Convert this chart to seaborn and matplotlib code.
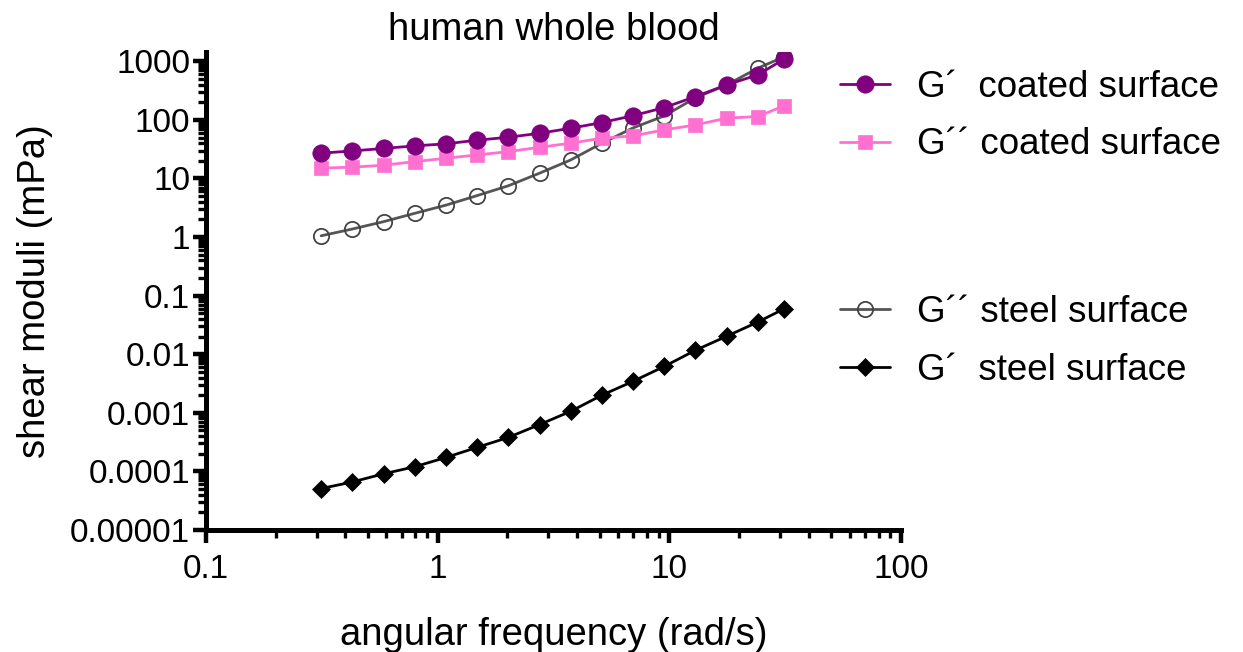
import numpy as np
import pandas as pd
import matplotlib
matplotlib.use("Agg")
import matplotlib.pyplot as plt
import matplotlib.ticker as mticker
import seaborn as sb

# angular frequency (rad/s)
freq = [0.314, 0.428, 0.584, 0.796, 1.085, 1.48, 2.018, 2.752, 3.752,
        5.116, 6.976, 9.512, 12.97, 17.69, 24.12, 31.4]

# shear moduli (mPa)
g1_coated = [27.0, 29.5, 32.5, 36.0, 39.0, 45.0, 50.5, 59.0, 72.0,
             90.0, 118, 162, 250, 396, 588, 1100]
g2_coated = [15.0, 15.6, 16.8, 19.4, 22.1, 25.2, 28.7, 34.0, 40.0,
             48.7, 53.3, 67.5, 82.0, 107, 114, 175]
g2_steel = [1.05, 1.37, 1.83, 2.54, 3.5, 5.1, 7.5, 12.3, 20.7,
            40.0, 73.0, 117, 238, 396, 765, 1200]
g1_steel = [5.1e-5, 6.6e-5, 9.1e-5, 1.2e-4, 1.73e-4, 2.57e-4, 3.8e-4, 6.3e-4, 1.06e-3,
            2.0e-3, 3.45e-3, 6.2e-3, 1.17e-2, 2.03e-2, 3.55e-2, 6.0e-2]

labels = ["G\u00b4  coated surface", "G\u00b4\u00b4 coated surface",
          "G\u00b4\u00b4 steel surface", "G\u00b4  steel surface"]

sb.set_style("ticks")
plt.rcParams["font.family"] = ["Liberation Sans", "DejaVu Sans"]
plt.rcParams["text.color"] = "black"
plt.rcParams["axes.labelcolor"] = "black"

fig = plt.figure(figsize=(12.43, 6.52), dpi=100)
ax = fig.add_axes([206 / 1243, 1 - 530 / 652, (901 - 206) / 1243, (530 - 52) / 652])

# steel first so the coated curves sit on top
sb.lineplot(x=freq, y=g2_steel, ax=ax, color="#555555", linewidth=2.0,
            marker="o", markersize=11, markerfacecolor="none",
            markeredgecolor="#444444", markeredgewidth=1.3, label=labels[2], legend=False)
sb.lineplot(x=freq, y=g1_steel, ax=ax, color="black", linewidth=2.0,
            marker="D", markersize=9, markerfacecolor="black",
            markeredgecolor="black", markeredgewidth=0.5, label=labels[3], legend=False)
sb.lineplot(x=freq, y=g2_coated, ax=ax, color="#ff70d0", linewidth=2.0,
            marker="s", markersize=10, markerfacecolor="#ff70d0",
            markeredgecolor="#ff70d0", markeredgewidth=0.5, label=labels[1], legend=False)
sb.lineplot(x=freq, y=g1_coated, ax=ax, color="#800080", linewidth=2.0,
            marker="o", markersize=12.5, markerfacecolor="#800080",
            markeredgecolor="#800080", markeredgewidth=0.5, label=labels[0], legend=False)

ax.set_xscale("log")
ax.set_yscale("log")
ax.set_xlim(0.1, 100)
ax.set_ylim(1e-5, 1.44e3)

ax.xaxis.set_major_locator(mticker.FixedLocator([0.1, 1, 10, 100]))
ax.yaxis.set_major_locator(mticker.FixedLocator([1e-5, 1e-4, 1e-3, 1e-2, 0.1, 1, 10, 100, 1000]))
ax.xaxis.set_minor_locator(mticker.LogLocator(base=10, subs=np.arange(2, 10), numticks=100))
ax.yaxis.set_minor_locator(mticker.LogLocator(base=10, subs=np.arange(2, 10), numticks=100))
fmt = mticker.FuncFormatter(lambda v, p: np.format_float_positional(v, trim="-"))
ax.xaxis.set_major_formatter(fmt)
ax.yaxis.set_major_formatter(fmt)
ax.xaxis.set_minor_formatter(mticker.NullFormatter())
ax.yaxis.set_minor_formatter(mticker.NullFormatter())

sb.despine(ax=ax)
for s in ["left", "bottom"]:
    ax.spines[s].set_linewidth(3.6)
    ax.spines[s].set_color("black")
ax.tick_params(which="major", length=9.5, width=3.2, color="black", labelsize=24, labelcolor="black")
ax.tick_params(which="minor", length=6, width=2.4, color="black")
ax.tick_params(axis="y", which="major", pad=2)
ax.tick_params(axis="x", which="major", pad=8)

ax.set_title("human whole blood", fontsize=27.5, pad=9)
ax.set_xlabel("angular frequency (rad/s)", fontsize=27.5, labelpad=23)
ax.set_ylabel("shear moduli (mPa)", fontsize=27.5, labelpad=12)

handles, labs = ax.get_legend_handles_labels()
hmap = dict(zip(labs, handles))
leg_kw = dict(frameon=False, fontsize=26.5, handlelength=1.36, handletextpad=0.73,
              labelspacing=0.62, borderpad=0, borderaxespad=0, loc="center left",
              bbox_transform=fig.transFigure)
leg1 = fig.legend([hmap[labels[0]], hmap[labels[1]]], labels[:2],
                  bbox_to_anchor=(840 / 1243, 1 - 116 / 652), **leg_kw)
leg2 = fig.legend([hmap[labels[2]], hmap[labels[3]]], labels[2:],
                  bbox_to_anchor=(840 / 1243, 1 - 341.5 / 652), **leg_kw)

fig.savefig("out.png", dpi=100)
